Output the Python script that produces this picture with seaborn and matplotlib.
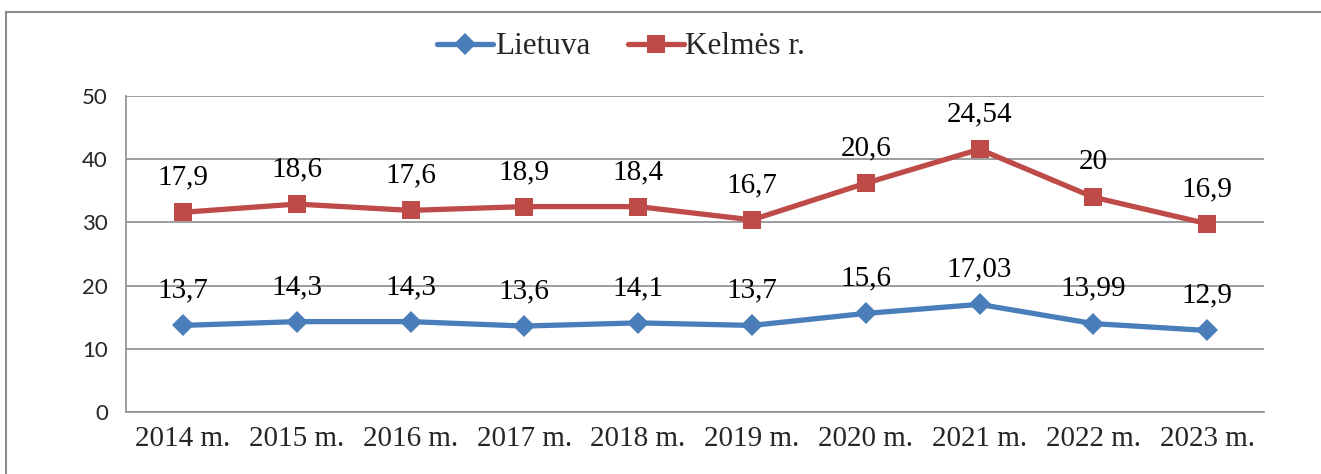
import numpy as np
import pandas as pd
import seaborn as sns
import matplotlib
matplotlib.use("Agg")
import matplotlib.pyplot as plt
from matplotlib.patches import Rectangle
from matplotlib.lines import Line2D

years = ["2014 m.", "2015 m.", "2016 m.", "2017 m.", "2018 m.",
         "2019 m.", "2020 m.", "2021 m.", "2022 m.", "2023 m."]
lietuva = [13.7, 14.3, 14.3, 13.6, 14.1, 13.7, 15.6, 17.03, 13.99, 12.9]
kelmes = [17.9, 18.6, 17.6, 18.9, 18.4, 16.7, 20.6, 24.54, 20.0, 16.9]
lietuva_labels = ["13,7", "14,3", "14,3", "13,6", "14,1", "13,7", "15,6", "17,03", "13,99", "12,9"]
kelmes_labels = ["17,9", "18,6", "17,6", "18,9", "18,4", "16,7", "20,6", "24,54", "20", "16,9"]
series_names = ["Lietuva", "Kelmės r."]

sns.set_theme(style="white")
plt.rcParams["font.family"] = ["Liberation Serif", "DejaVu Serif"]

blue = "#4A7EBB"
red = "#BE4B48"
grid_c = "#8C8C8C"

pos = np.arange(len(years))
# stacked line chart: second series sits on top of the first
stack_top = np.array(lietuva) + np.array(kelmes)

df = pd.DataFrame({
    "x": np.concatenate([pos, pos]),
    "y": np.concatenate([np.array(lietuva), stack_top]),
    "series": [series_names[0]] * len(pos) + [series_names[1]] * len(pos),
})

fig = plt.figure(figsize=(13.21, 4.74), dpi=100)
ax = fig.add_axes([126 / 1321, 1 - 412 / 474, (1264 - 126) / 1321, (412 - 96) / 474])

sns.lineplot(data=df[df.series == series_names[0]], x="x", y="y", ax=ax,
             color=blue, lw=3.8, marker="D", markersize=11, markeredgewidth=0,
             legend=False, zorder=4)
sns.lineplot(data=df[df.series == series_names[1]], x="x", y="y", ax=ax,
             color=red, lw=3.8, marker="s", markersize=13, markeredgewidth=0,
             legend=False, zorder=4)

for xi, yi, lab in zip(pos, lietuva, lietuva_labels):
    ax.annotate(lab, (xi, yi), xytext=(0, 25), textcoords="offset points",
                ha="center", va="center", fontsize=21, color="black", zorder=5)
for xi, yi, lab in zip(pos, stack_top, kelmes_labels):
    ax.annotate(lab, (xi, yi), xytext=(0, 25), textcoords="offset points",
                ha="center", va="center", fontsize=21, color="black", zorder=5)

ax.set_xlim(-0.5, len(years) - 0.5)
ax.set_ylim(0, 50)
ax.set_yticks([0, 10, 20, 30, 40, 50])
ax.set_yticklabels(["0", "10", "20", "30", "40", "50"],
                   fontsize=16, family=["Lato", "DejaVu Sans"])
ax.set_xticks(np.arange(-0.5, len(years), 1.0))
ax.set_xticklabels([])
ax.set_xticks(pos, minor=True)
ax.set_xticklabels(years, minor=True, fontsize=21)
ax.tick_params(axis="x", which="minor", length=0, pad=10)
ax.tick_params(axis="x", which="major", length=7, color=grid_c, width=1.2, direction="out")
ax.tick_params(axis="y", length=7, color=grid_c, width=1.2, direction="out", pad=6)
ax.set_xlabel("")
ax.set_ylabel("")
ax.yaxis.grid(True, color=grid_c, lw=1.2)
ax.xaxis.grid(False)
ax.set_axisbelow(True)
for side in ["top", "right"]:
    ax.spines[side].set_visible(False)
for side in ["left", "bottom"]:
    ax.spines[side].set_color(grid_c)
    ax.spines[side].set_linewidth(1.2)

handles = [
    Line2D([0], [0], color=blue, lw=3.8, marker="D", markersize=11, markeredgewidth=0),
    Line2D([0], [0], color=red, lw=3.8, marker="s", markersize=13, markeredgewidth=0),
]
fig.legend(handles, series_names, loc="center", bbox_to_anchor=(621 / 1321, 1 - 47 / 474),
           ncol=2, frameon=False, fontsize=22.5, handlelength=1.8, handletextpad=0.05,
           columnspacing=1.2)

fig.patches.append(Rectangle((6 / 1321, -0.05), 1.2, 1 - 12 / 474 + 0.05,
                             transform=fig.transFigure, fill=False,
                             edgecolor=grid_c, lw=1.5))

fig.savefig("out.png", dpi=100)
